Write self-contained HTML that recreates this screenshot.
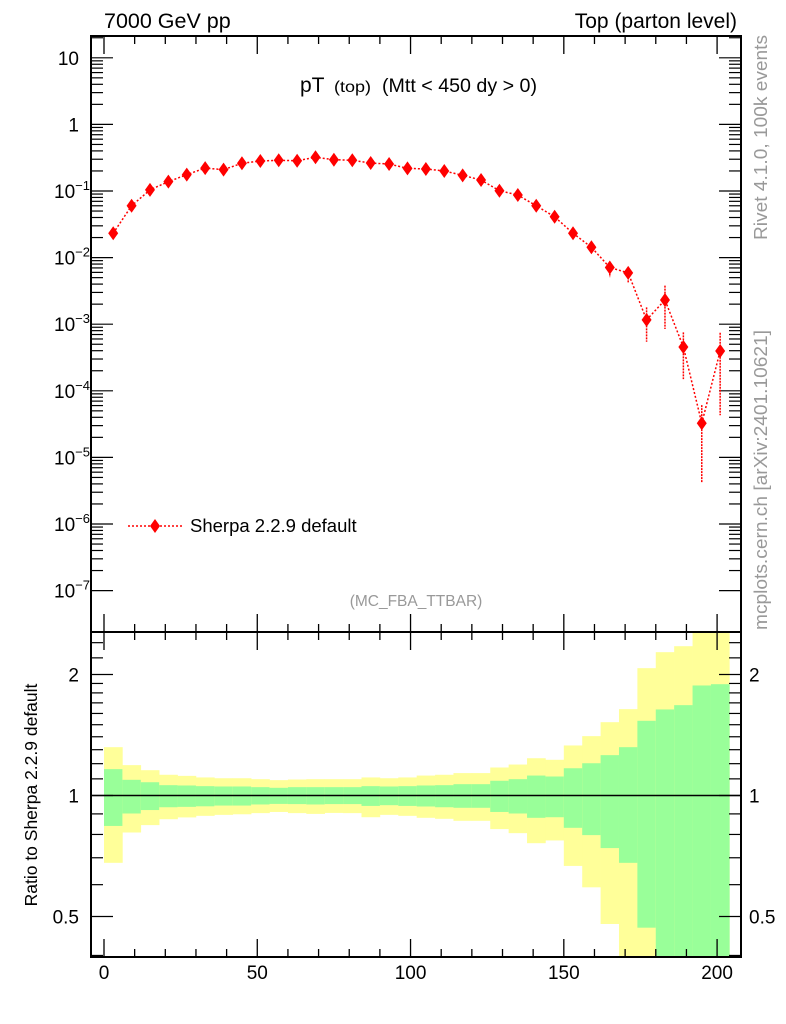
<!DOCTYPE html>
<html><head><meta charset="utf-8"><style>
html,body{margin:0;padding:0;background:#fff;}
svg{display:block;font-family:"Liberation Sans",sans-serif;}
</style></head><body>
<svg id="chart" width="786" height="1024" viewBox="0 0 786 1024" xmlns="http://www.w3.org/2000/svg">
<g id="ratio-bands"></g>
<g id="ticks"></g>
<g id="series"></g>
<rect x="91" y="36" width="650" height="596" fill="none" stroke="#000" stroke-width="2"/>
<rect x="91" y="632" width="650" height="325" fill="none" stroke="#000" stroke-width="2"/>
<text x="104" y="28" font-size="21.5">7000 GeV pp</text>
<text x="737" y="28" font-size="21" text-anchor="end">Top (parton level)</text>
<g>
<text x="300" y="92" font-size="21">pT</text>
<text x="334" y="92" font-size="16" textLength="37" lengthAdjust="spacingAndGlyphs">(top)</text>
<text x="382" y="92" font-size="19" textLength="155" lengthAdjust="spacingAndGlyphs">(Mtt &lt; 450 dy &gt; 0)</text>
</g>
<text x="416" y="606" font-size="15.5" fill="#999" text-anchor="middle">(MC_FBA_TTBAR)</text>
<text transform="translate(767,240) rotate(-90)" font-size="18.5" fill="#999" textLength="205" lengthAdjust="spacingAndGlyphs">Rivet 4.1.0,  100k events</text>
<text transform="translate(767,630) rotate(-90)" font-size="18.5" fill="#999" textLength="300" lengthAdjust="spacingAndGlyphs">mcplots.cern.ch [arXiv:2401.10621]</text>
<text transform="translate(37,795) rotate(-90)" font-size="17.5" text-anchor="middle">Ratio to Sherpa 2.2.9 default</text>
<g>
<line x1="128" y1="526" x2="183" y2="526" stroke="#f00" stroke-width="1.5" stroke-dasharray="2,2"/>
<path d="M155,519 L160,526 L155,533 L150,526 Z" fill="#f00"/>
<text x="190" y="532" font-size="18.5">Sherpa 2.2.9 default</text>
</g>
</svg>
<script>
const binCenters=[3,9,15,21,27,33,39,45,51,57,63,69,75,81,87,93,99,105,111,117,123,129,135,141,147,153,159,165,171,177,183,189,195,201];
const values=[0.0232,0.060,0.104,0.138,0.176,0.221,0.209,0.261,0.282,0.289,0.285,0.321,0.295,0.289,0.263,0.254,0.219,0.214,0.200,0.172,0.146,0.101,0.087,0.060,0.041,0.0232,0.0143,0.0071,0.0059,0.00116,0.00231,0.000455,3.25e-5,0.000396];
const errHi=[0.0239,0.062,0.107,0.142,0.181,0.227,0.215,0.268,0.290,0.297,0.293,0.330,0.303,0.297,0.271,0.262,0.227,0.222,0.208,0.180,0.154,0.107,0.093,0.065,0.045,0.026,0.0165,0.00869,0.0069,0.00179,0.00379,0.000755,6.1e-5,0.000745];
const errLo=[0.0225,0.058,0.101,0.134,0.171,0.215,0.203,0.254,0.274,0.281,0.277,0.312,0.287,0.281,0.255,0.246,0.211,0.206,0.192,0.164,0.138,0.095,0.081,0.055,0.037,0.0205,0.0122,0.0051,0.00411,0.000546,0.000848,0.000150,4.2e-6,4.3e-5];
const yellowHi=[1.319,1.190,1.156,1.126,1.119,1.109,1.104,1.104,1.098,1.092,1.096,1.098,1.098,1.098,1.109,1.104,1.109,1.121,1.126,1.137,1.137,1.174,1.194,1.238,1.227,1.332,1.405,1.522,1.640,2.074,2.273,2.352,3,3];
const greenHi=[1.163,1.094,1.079,1.061,1.059,1.055,1.053,1.053,1.049,1.045,1.049,1.049,1.049,1.049,1.055,1.053,1.055,1.059,1.061,1.067,1.067,1.088,1.098,1.121,1.115,1.169,1.203,1.260,1.319,1.534,1.637,1.678,1.878,1.892];
const greenLo=[0.840,0.902,0.920,0.935,0.937,0.940,0.944,0.944,0.950,0.953,0.952,0.950,0.952,0.952,0.942,0.946,0.942,0.939,0.935,0.932,0.932,0.910,0.902,0.880,0.883,0.831,0.797,0.740,0.680,0.469,0.1,0.1,0.1,0.1];
const yellowLo=[0.680,0.809,0.844,0.873,0.882,0.890,0.895,0.898,0.904,0.910,0.904,0.900,0.905,0.904,0.883,0.895,0.890,0.880,0.875,0.865,0.865,0.825,0.806,0.761,0.773,0.668,0.591,0.479,0.1,0.1,0.1,0.1,0.1,0.1];
const xTicks=[0,50,100,150,200];
const mainDecades=[-7,-6,-5,-4,-3,-2,-1,0,1];
const ratioMajor=[0.5,1,2];
const binWidth=6;
const NS='http://www.w3.org/2000/svg';
const X0=91,X1=741,XMIN=-4.24,XMAX=207.8;
const sx=v=>X0+(v-XMIN)/(XMAX-XMIN)*(X1-X0);
const sy=v=>191-66.6*(Math.log10(v)+1);
const RT=632,RB=957;
const sr=r=>Math.max(RT,Math.min(RB,795.5-121*Math.log2(r)));
function mk(tag,attrs,parent){const e=document.createElementNS(NS,tag);for(const k in attrs)e.setAttribute(k,attrs[k]);parent.appendChild(e);return e;}
const bands=document.getElementById('ratio-bands');
const ticks=document.getElementById('ticks');
const series=document.getElementById('series');
binCenters.forEach((c,i)=>{
  const xa=sx(c-binWidth/2),xb=sx(c+binWidth/2);
  const y=mk('rect',{x:xa,y:sr(yellowHi[i]),width:xb-xa+0.3,height:sr(yellowLo[i])-sr(yellowHi[i]),fill:'#ffff99'},bands);
  
  
  const g=mk('rect',{x:xa,y:sr(greenHi[i]),width:xb-xa+0.3,height:sr(greenLo[i])-sr(greenHi[i]),fill:'#99ff99'},bands);
  
  
});
const one=mk('line',{x1:X0,x2:X1,y1:sr(1),y2:sr(1),stroke:'#000','stroke-width':1.5},bands);


for(let v=0;v<=200;v+=10){
  const maj=xTicks.includes(v);const L=maj?18:8;const x=sx(v);
  [[36,1],[632,-1],[632,1],[957,-1]].forEach(([y0,d])=>mk('line',{x1:x,x2:x,y1:y0,y2:y0+d*L,stroke:'#000','stroke-width':1.3},ticks));
}
xTicks.forEach(v=>{const t=mk('text',{x:sx(v),y:979,'font-size':19,'text-anchor':'middle'},ticks);t.textContent=v;

});
mainDecades.forEach(d=>{
  for(let m=1;m<=9;m++){const v=m*Math.pow(10,d);const y=sy(v);if(y<36||y>632)continue;const L=m===1?22:12;
    mk('line',{x1:X0,x2:X0+L,y1:y,y2:y,stroke:'#000','stroke-width':1.2},ticks);
    mk('line',{x1:X1,x2:X1-L,y1:y,y2:y,stroke:'#000','stroke-width':1.2},ticks);}
  const t=mk('text',{x:79,y:sy(Math.pow(10,d))+7,'font-size':19,'text-anchor':'end'},ticks);
  
  
  if(d===0)t.textContent='1';else if(d===1)t.textContent='10';
  else{t.textContent='10';const s=mk('tspan',{dy:-8,'font-size':13},t);s.textContent=String(d).replace('-','\u2212');t.setAttribute('x',90);}
});
const rt=[];for(let r=0.4;r<2.0;r+=0.1)rt.push(+r.toFixed(1));[2,2.2,2.4].forEach(r=>rt.push(r));
rt.forEach(r=>{const y=sr(r);if(y<=RT||y>=RB)return;const L=ratioMajor.includes(r)?22:12;
  mk('line',{x1:X0,x2:X0+L,y1:y,y2:y,stroke:'#000','stroke-width':1.2},ticks);
  mk('line',{x1:X1,x2:X1-L,y1:y,y2:y,stroke:'#000','stroke-width':1.2},ticks);});
ratioMajor.forEach(r=>{[[79,'end'],[749,'start']].forEach(([x,a])=>{const t=mk('text',{x:x,y:sr(r)+7,'font-size':19,'text-anchor':a},ticks);t.textContent=r;

});});
const pts=binCenters.map((c,i)=>sx(c)+','+sy(values[i])).join(' ');
const pl=mk('polyline',{points:pts,fill:'none',stroke:'#f00','stroke-width':1.5,'stroke-dasharray':'2,2'},series);


binCenters.forEach((c,i)=>{
  const x=sx(c),y=sy(values[i]);
  const e=mk('line',{x1:x,x2:x,y1:sy(errHi[i]),y2:sy(errLo[i]),stroke:'#f00','stroke-width':1.5,'stroke-dasharray':'2,1'},series);
  
  
  const p=mk('path',{d:`M${x},${y-7}L${x+5},${y}L${x},${y+7}L${x-5},${y}Z`,fill:'#f00'},series);
  
  
});
</script>
</body></html>
